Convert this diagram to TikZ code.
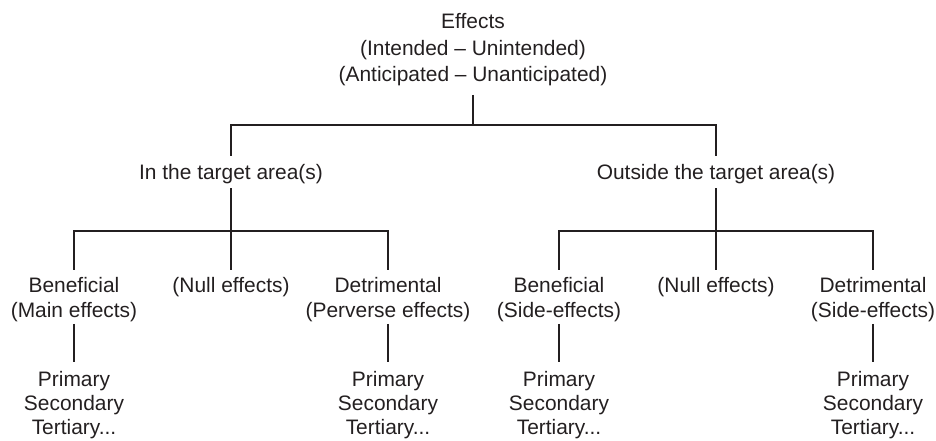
\documentclass[tikz,border=0pt]{standalone}
\usepackage{fontspec}
\setmainfont{Liberation Sans}
\usetikzlibrary{positioning}
\definecolor{ink}{RGB}{35,31,32}

\begin{document}
\begin{tikzpicture}[x=1bp,y=-1bp,
    every node/.style={align=center,inner sep=2bp,anchor=north,text=ink,
      font=\fontsize{21}{25}\selectfont},
    orders/.style={font=\fontsize{21}{24}\selectfont},
    branch/.style={draw=ink,line width=1.1bp},
    node distance=45.6bp]
  \useasboundingbox (0,0) rectangle (936,441);

  % root
  \node[font=\fontsize{21}{26.8}\selectfont] (effects) at (473,11)
    {Effects\\(Intended -- Unintended)\\(Anticipated -- Unanticipated)};

  % target area
  \node (inarea) at (231,162) {In the target area(s)};
  \node (outarea) at (716,162) {Outside the target area(s)};

  % kinds of effect
  \node (benin) at (74,275) {Beneficial\\(Main effects)};
  \node (nullin) at (231,275) {(Null effects)};
  \node (detin) at (388,275) {Detrimental\\(Perverse effects)};
  \node (benout) at (559,275) {Beneficial\\(Side-effects)};
  \node (nullout) at (716,275) {(Null effects)};
  \node (detout) at (873,275) {Detrimental\\(Side-effects)};

  % orders
  \node[orders, below=of benin] (ordbenin) {Primary\\Secondary\\Tertiary...};
  \node[orders, below=of detin] (orddetin) {Primary\\Secondary\\Tertiary...};
  \node[orders, below=of benout] (ordbenout) {Primary\\Secondary\\Tertiary...};
  \node[orders, below=of detout] (orddetout) {Primary\\Secondary\\Tertiary...};

  \coordinate (jroot) at (473,125);
  \coordinate (jin) at (231,231);
  \coordinate (jout) at (716,231);

  \draw[branch, shorten <=6.5bp] (effects.south) -- (jroot);
  \draw[branch, shorten <=6bp, shorten >=6bp] (inarea.north) |- (jroot) -| (outarea.north);

  \draw[branch, shorten <=2.6bp] (inarea.south) -- (jin);
  \draw[branch, shorten <=5bp, shorten >=5bp] (benin.north) |- (jin) -| (detin.north);
  \draw[branch, shorten <=5bp] (nullin.north) -- (jin);

  \draw[branch, shorten <=2.6bp] (outarea.south) -- (jout);
  \draw[branch, shorten <=5bp, shorten >=5bp] (benout.north) |- (jout) -| (detout.north);
  \draw[branch, shorten <=5bp] (nullout.north) -- (jout);

  \draw[branch, shorten >=7bp] (benin) -- (ordbenin);
  \draw[branch, shorten >=7bp] (detin) -- (orddetin);
  \draw[branch, shorten >=7bp] (benout) -- (ordbenout);
  \draw[branch, shorten >=7bp] (detout) -- (orddetout);
\end{tikzpicture}
\end{document}
